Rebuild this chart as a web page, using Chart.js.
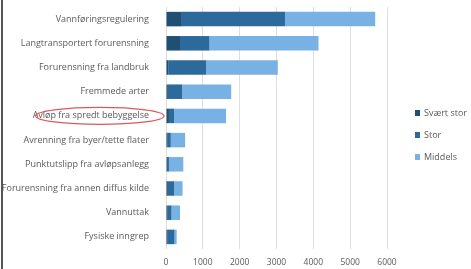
<!DOCTYPE html>
<html lang="no">
<head>
<meta charset="UTF-8">
<title>Påvirkninger</title>
<script src="https://cdn.jsdelivr.net/npm/chart.js"></script>
<style>
  html, body { margin: 0; padding: 0; background: #fff; overflow: hidden; }
  .ramme { width: 468px; height: 269px; border-left: 2px solid #555; margin-left: 1px; }
</style>
</head>
<body>
<div class="ramme">
  <canvas id="graf" width="468" height="269"></canvas>
</div>

<script>
// kategorier (påvirkningstyper)
const kategorier = [
  'Vannføringsregulering',
  'Langtransportert forurensning',
  'Forurensning fra landbruk',
  'Fremmede arter',
  'Avløp fra spredt bebyggelse',
  'Avrenning fra byer/tette flater',
  'Punktutslipp fra avløpsanlegg',
  'Forurensning fra annen diffus kilde',
  'Vannuttak',
  'Fysiske inngrep'
];

// antall vannforekomster per grad av påvirkning
const svaertStor = [430, 380, 60, 50, 80, 30, 20, 50, 30, 30];
const stor       = [2800, 800, 1030, 390, 140, 100, 60, 170, 120, 200];
const middels    = [2450, 2960, 1945, 1330, 1410, 390, 390, 230, 230, 60];

const xTicks = [0, 1000, 2000, 3000, 4000, 5000, 6000];
const markertKategori = 'Avløp fra spredt bebyggelse';

const fontNavn = 'Open Sans';
const tekstFarge = '#5a5a5a';

// rød ring rundt en av etikettene
const ringPlugin = {
  id: 'ring',
  afterDraw(chart) {
    const y = chart.scales.y;
    const ctx = chart.ctx;
    const cy = y.getPixelForValue(kategorier.indexOf(markertKategori));
    ctx.save();
    ctx.font = '9px "' + fontNavn + '"';
    const w = ctx.measureText(markertKategori).width;
    const cx = y.right - 9 - w / 2 + 1;
    ctx.beginPath();
    ctx.ellipse(cx, cy, w / 2 + 6, 8.5, 0, 0, Math.PI * 2);
    ctx.strokeStyle = '#e0575c';
    ctx.lineWidth = 1.2;
    ctx.stroke();
    ctx.restore();
  }
};

// forklaring til høyre, tegnet fra datasettene
const forklaringPlugin = {
  id: 'forklaring',
  afterDraw(chart) {
    const ctx = chart.ctx;
    const x0 = chart.chartArea.right + 28;
    const yMid = (chart.chartArea.top + chart.chartArea.bottom) / 2;
    const steg = 22;
    ctx.save();
    ctx.font = '9px "' + fontNavn + '"';
    ctx.textBaseline = 'middle';
    chart.data.datasets.forEach((ds, i) => {
      const yy = yMid + (i - 1) * steg + 7;
      ctx.fillStyle = ds.backgroundColor;
      ctx.fillRect(x0, yy - 3, 5, 6);
      ctx.fillStyle = tekstFarge;
      ctx.fillText(ds.label, x0 + 9, yy);
    });
    ctx.restore();
  }
};

new Chart(document.getElementById('graf'), {
  type: 'bar',
  data: {
    labels: kategorier,
    datasets: [
      { label: 'Svært stor', data: svaertStor, backgroundColor: '#1f4f73' },
      { label: 'Stor', data: stor, backgroundColor: '#2d6a9c' },
      { label: 'Middels', data: middels, backgroundColor: '#78b2e4' }
    ]
  },
  options: {
    indexAxis: 'y',
    responsive: false,
    animation: false,
    devicePixelRatio: 1,
    layout: { padding: { top: 7, right: 84, bottom: 0, left: 0 } },
    datasets: { bar: { barPercentage: 0.6, categoryPercentage: 1.0 } },
    scales: {
      x: {
        stacked: true,
        min: 0,
        max: 6000,
        afterBuildTicks(axis) { axis.ticks = xTicks.map(v => ({ value: v })); },
        afterFit(axis) { axis.height = 20; axis.paddingLeft = 0; axis.paddingRight = 0; },
        grid: { color: '#dedede', drawTicks: false },
        border: { display: false },
        ticks: {
          color: tekstFarge,
          font: { family: fontNavn, size: 8.5 },
          padding: 8,
          callback: v => String(v)
        }
      },
      y: {
        stacked: true,
        afterFit(axis) { axis.width = 163; axis.paddingTop = 0; axis.paddingBottom = 0; },
        grid: { display: false },
        border: { display: false },
        ticks: { color: tekstFarge, font: { family: fontNavn, size: 9 }, padding: 9, autoSkip: false }
      }
    },
    plugins: {
      legend: { display: false },
      tooltip: { enabled: false }
    }
  },
  plugins: [ringPlugin, forklaringPlugin]
});
</script>
</body>
</html>
